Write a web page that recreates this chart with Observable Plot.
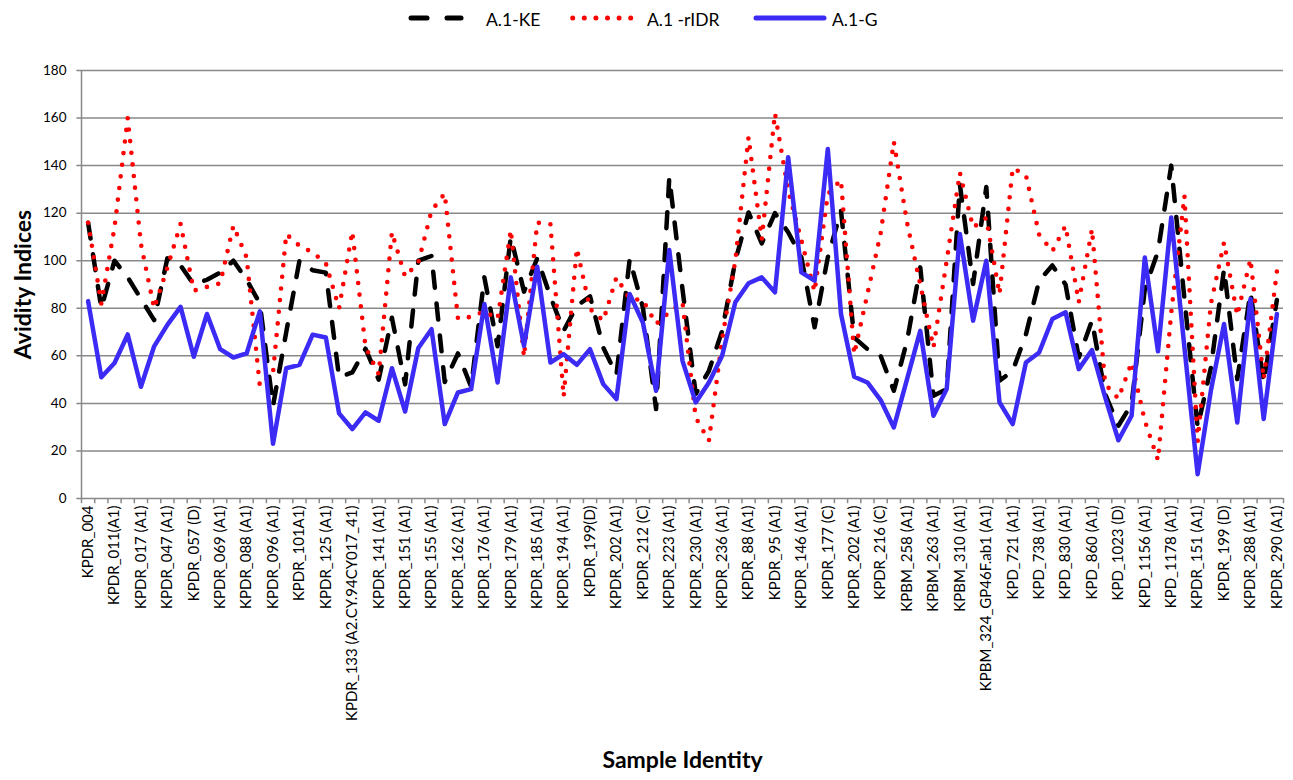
<!DOCTYPE html>
<html><head><meta charset="utf-8">
<script src="https://cdn.jsdelivr.net/npm/d3@7"></script>
<script src="https://cdn.jsdelivr.net/npm/@observablehq/plot@0.6"></script>
<style>
body{margin:0;background:#fff;}
#wrap{position:relative;width:1293px;height:780px;font-family:Lato,"Open Sans",sans-serif;}
#legend{position:absolute;left:0;top:0;}
</style></head><body>
<div id="wrap"><div id="chart"></div><svg id="legend" width="1293" height="36"></svg></div>
<script>
const sampleLabels = ["KPDR_004","KPDR_011(A1)","KPDR_017 (A1)","KPDR_047 (A1)","KPDR_057 (D)","KPDR_069 (A1)","KPDR_088 (A1)","KPDR_096 (A1)","KPDR_101A1)","KPDR_125 (A1)","KPDR_133 (A2.CY.94CY017_41)","KPDR_141 (A1)","KPDR_151 (A1)","KPDR_155 (A1)","KPDR_162 (A1)","KPDR_176 (A1)","KPDR_179 (A1)","KPDR_185 (A1)","KPDR_194 (A1)","KPDR_199(D)","KPDR_202 (A1)","KPDR_212 (C)","KPDR_223 (A1)","KPDR_230 (A1)","KPDR_236 (A1)","KPDR_88 (A1)","KPDR_95 (A1)","KPDR_146 (A1)","KPDR_177 (C)","KPDR_202 (A1)","KPDR_216 (C)","KPBM_258 (A1)","KPBM_263 (A1)","KPBM_310 (A1)","KPBM_324_GP46F.ab1 (A1)","KPD_721 (A1)","KPD_738 (A1)","KPD_830 (A1)","KPD_860 (A1)","KPD_1023 (D)","KPD_1156 (A1)","KPD_1178 (A1)","KPDR_151 (A1)","KPDR_199 (D)","KPDR_288 (A1)","KPDR_290 (A1)"];

const keValues = [116,80,100,93,84,75,101,98,90,92,95,100,92,82,39,70,100,96,95,51,53,63,50,76,48,100,102,49,61,47,93,64,110,87,101,85,70.5,81,85,63.5,52,100.7,80.4,37.6,135,88,44,53.7,70.5,100,120.3,107.3,120,112,101.4,72,101.4,121,67.7,62.8,60,45.3,66.3,97.2,43.2,46,132,90.2,131,49.5,53.7,69,91.6,98,90,59.3,74.8,43.9,30.6,39.7,88,104,140,84,30,55,96.5,50.2,86.7,48.8,83.5];

const ridrValues = [116,82,114,160,107,80,97,115.5,87.4,89,90.5,114.7,101.4,47.4,53,111.2,106.3,103.5,98.9,80,112.3,63.8,52.3,112,93.3,99.3,121,128.3,75.7,76.4,78.7,75.5,113,59.6,116,115.4,42.8,105.2,79.7,74.8,93,84,83.5,73.4,78.3,82.5,34,24.3,67,100,152,109,162,129.5,108.6,87,128,134,60.7,86,111.5,150,116,90,63.5,100,137,114,118,86,139,136,111,104,114.7,82.5,113.3,48.1,42,57.2,32.7,16.1,78,127.3,24,81.8,107.7,77,100.7,50.2,95.5];

const gValues = [83,51,57,69,47,64,73,80.6,59.6,77.6,62.8,59.3,61,78.7,23,54.8,56.2,68.9,67.7,35.8,29.2,36.2,32.7,54.8,36.6,63.3,71.2,31.3,44.6,46,81.8,48.8,93,64.2,97.5,57.2,60.7,56.2,62.8,48.1,41.8,86,74,45.3,104.5,57.9,40.4,48.8,60,82.5,90.5,93,86.7,143.5,95.1,91.6,147,77.6,51.2,48.8,41.4,29.9,50.2,70.5,34.8,46,111.2,74.8,100,40.4,31.3,57.2,61.4,75.5,78.3,54.4,62.4,42.5,24.5,34.8,101.4,61.9,118.2,63.5,10.2,45.3,73.4,32,83.9,33.4,77.6];

const seriesNames = ["A.1-KE","A.1 -rIDR","A.1-G"];
const yTicks = [0,20,40,60,80,100,120,140,160,180];

const n = keValues.length;
const labelIdx = d3.range(0, n, 2);
const boundaries = d3.range(-0.5, n, 1);
const grid = "#898989";
const font = 'Lato,"Open Sans",sans-serif';

const chart = Plot.plot({
  width: 1293, height: 780,
  marginLeft: 81, marginRight: 10, marginTop: 70, marginBottom: 282,
  x: {domain: [-0.5, n - 0.5]},
  y: {domain: [0, 180]},
  style: {fontFamily: font, fontSize: "13px", color: "#000", background: "#fff"},
  marks: [
    Plot.ruleY(yTicks, {x1: -0.85, x2: n - 0.5, stroke: grid, strokeWidth: 1.5}),
    Plot.ruleX([-0.5], {y1: 0, y2: 180, stroke: grid, strokeWidth: 1.5}),
    Plot.ruleX(boundaries, {y1: 0, y2: -2.2, stroke: grid, strokeWidth: 1.5}),
    Plot.axisY({ticks: yTicks, tickSize: 0, tickPadding: 15, label: null, fontSize: 13.5}),
    Plot.axisX({ticks: labelIdx, tickFormat: i => sampleLabels[i / 2], tickRotate: -90, tickSize: 0, tickPadding: 7, label: null, fontSize: 15}),
    Plot.lineY(keValues, {stroke: "#000", strokeWidth: 4.5, strokeDasharray: "16,16", strokeLinecap: "round", strokeLinejoin: "round"}),
    Plot.lineY(ridrValues, {stroke: "#ff0000", strokeWidth: 4.6, strokeDasharray: "0,11.7", strokeLinecap: "round", strokeLinejoin: "round"}),
    Plot.lineY(gValues, {stroke: "#3b2bf5", strokeWidth: 4.5, strokeLinejoin: "round"}),
    Plot.text(["Avidity Indices"], {frameAnchor: "left", dx: -58, rotate: -90, textAnchor: "middle", fontSize: 23, fontWeight: "bold"}),
    Plot.text(["Sample Identity"], {frameAnchor: "bottom", dy: 269, textAnchor: "middle", fontSize: 23, fontWeight: "bold"})
  ]
});
document.getElementById("chart").appendChild(chart);

// legend
const lg = d3.select("#legend");
lg.append("line").attr("x1", 411).attr("x2", 427).attr("y1", 18).attr("y2", 18).attr("stroke", "#000").attr("stroke-width", 5).attr("stroke-linecap", "round");
lg.append("line").attr("x1", 447).attr("x2", 461).attr("y1", 18).attr("y2", 18).attr("stroke", "#000").attr("stroke-width", 5).attr("stroke-linecap", "round");
lg.append("line").attr("x1", 572.7).attr("x2", 631).attr("y1", 18).attr("y2", 18).attr("stroke", "#ff0000").attr("stroke-width", 5).attr("stroke-dasharray", "0,11.6").attr("stroke-linecap", "round");
lg.append("line").attr("x1", 756).attr("x2", 824).attr("y1", 18).attr("y2", 18).attr("stroke", "#3b2bf5").attr("stroke-width", 5).attr("stroke-linecap", "round");
const lx = [486, 647, 832];
seriesNames.forEach((s, k) => {
  lg.append("text").attr("x", lx[k]).attr("y", 26).attr("font-family", font).attr("font-size", 17.5).attr("fill", "#000").text(s);
});
</script>
</body></html>
